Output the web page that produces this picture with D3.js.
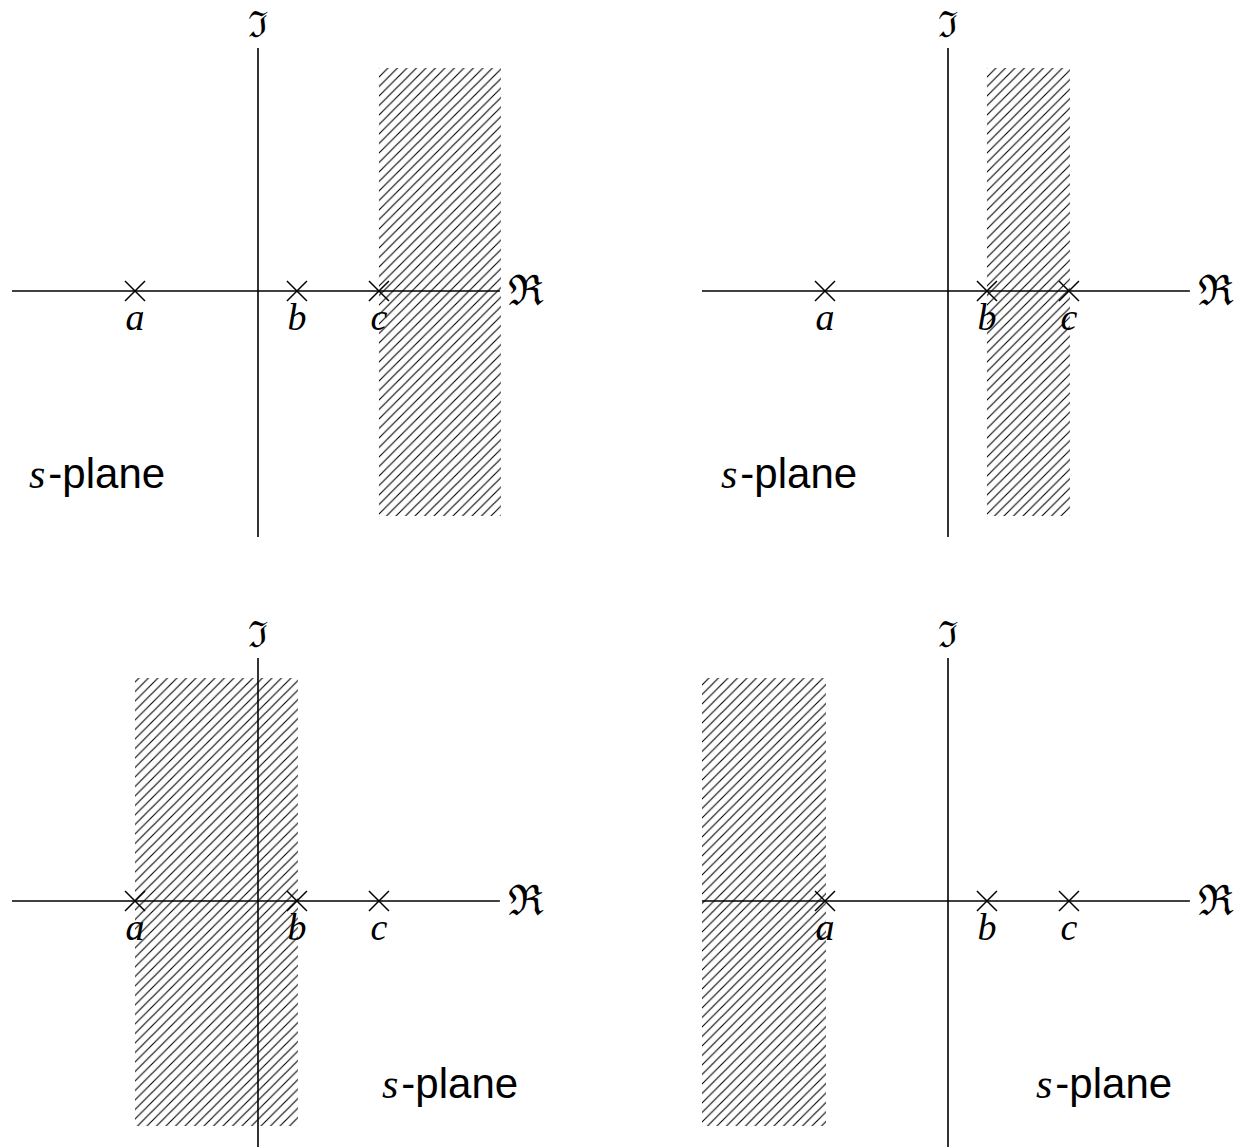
<!DOCTYPE html>
<html>
<head>
<meta charset="utf-8">
<script src="https://cdn.jsdelivr.net/npm/d3@7"></script>
<style>
  html, body { margin: 0; padding: 0; background: #fff; }
  svg { display: block; }
</style>
</head>
<body>
<svg id="chart" width="1235" height="1147"></svg>
<script>
// ---- data ----
const poleNames = ["a", "b", "c"];
const poleValues = [-3, 0.95, 2.95];
const realExtent = [-6, 5.9];
const imagExtent = [-6, 5.9];
// region of convergence for each panel: [from, to] (pole names or axis ends)
const rocFrom = ["c", "b", "a", "min"];
const rocTo = ["max", "c", "b", "a"];
const realLabel = "\u211C";
const imagLabel = "\u2111";
const planeItalic = "s";
const planeText = "-plane";

// ---- layout ----
const unit = 41;
const panels = [
  { ox: 258, oy: 291, lx: 29,   ly: 488 },
  { ox: 948, oy: 291, lx: 721,  ly: 488 },
  { ox: 258, oy: 901, lx: 382,  ly: 1098 },
  { ox: 948, oy: 901, lx: 1036, ly: 1098 }
];

const svg = d3.select("#chart");
const defs = svg.append("defs");
const P = 9.5;
const pat = defs.append("pattern")
  .attr("id", "hatch")
  .attr("patternUnits", "userSpaceOnUse")
  .attr("width", P).attr("height", P);
pat.append("path")
  .attr("d", `M-2,2 L2,-2 M0,${P} L${P},0 M${P-2},${P+2} L${P+2},${P-2}`)
  .attr("stroke", "#000")
  .attr("stroke-width", 1.1);

const poleMap = {};
poleNames.forEach((n, i) => poleMap[n] = poleValues[i]);

panels.forEach((p, i) => {
  const x = d3.scaleLinear().domain([0, 1]).range([p.ox, p.ox + unit]);
  const y = d3.scaleLinear().domain([0, 1]).range([p.oy, p.oy - unit]);
  const g = svg.append("g");

  const resolve = v => v === "min" ? realExtent[0] : v === "max" ? realExtent[1] : poleMap[v];
  const r0 = resolve(rocFrom[i]), r1 = resolve(rocTo[i]);
  const hatchTop = p.oy - 223, hatchBot = p.oy + 225;
  g.append("rect")
    .attr("x", x(r0)).attr("width", x(r1) - x(r0) + 1)
    .attr("y", hatchTop).attr("height", hatchBot - hatchTop)
    .attr("fill", "url(#hatch)");

  // axes
  g.append("line")
    .attr("x1", x(realExtent[0])).attr("x2", x(realExtent[1]))
    .attr("y1", p.oy).attr("y2", p.oy)
    .attr("stroke", "#000").attr("stroke-width", 1.6);
  g.append("line")
    .attr("x1", p.ox).attr("x2", p.ox)
    .attr("y1", p.oy - 243).attr("y2", p.oy + 246)
    .attr("stroke", "#000").attr("stroke-width", 1.6);

  // axis labels
  g.append("text")
    .attr("x", x(realExtent[1]) + 26).attr("y", p.oy + 14)
    .attr("text-anchor", "middle")
    .attr("font-family", "DejaVu Serif")
    .attr("font-size", 42)
    .text(realLabel);
  g.append("text")
    .attr("x", p.ox).attr("y", p.oy - 254)
    .attr("text-anchor", "middle")
    .attr("font-family", "DejaVu Serif")
    .attr("font-size", 36)
    .text(imagLabel);

  // poles
  const s = 10;
  poleValues.forEach((v, k) => {
    const cx = x(v), cy = p.oy;
    g.append("path")
      .attr("d", `M${cx - s},${cy - s}L${cx + s},${cy + s}M${cx - s},${cy + s}L${cx + s},${cy - s}`)
      .attr("stroke", "#000").attr("stroke-width", 1.5).attr("fill", "none");
    g.append("text")
      .attr("x", cx).attr("y", cy + 39)
      .attr("text-anchor", "middle")
      .attr("font-family", "Liberation Serif")
      .attr("font-style", "italic")
      .attr("font-size", 38)
      .text(poleNames[k]);
  });

  // s-plane label
  const t = g.append("text")
    .attr("x", p.lx).attr("y", p.ly)
    .attr("font-size", 42);
  t.append("tspan")
    .attr("font-family", "Liberation Serif")
    .attr("font-style", "italic")
    .attr("font-size", 42)
    .text(planeItalic);
  t.append("tspan")
    .attr("font-family", "Liberation Sans")
    .attr("dx", 3)
    .text(planeText);
});
</script>
</body>
</html>
